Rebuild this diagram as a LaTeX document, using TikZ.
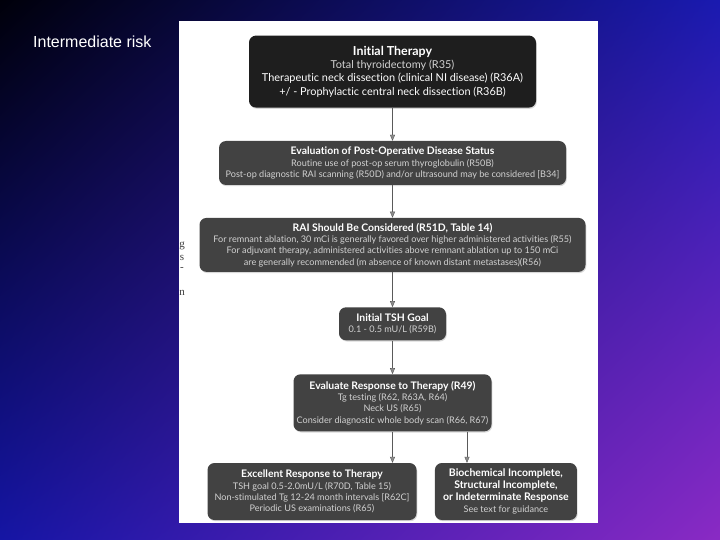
\documentclass[tikz,border=0pt]{standalone}
\usepackage{fontspec}
\setmainfont{Lato}[Ligatures=NoCommon]
\newfontfamily\slidefont{Liberation Sans}
\newfontfamily\fragfont{Liberation Serif}
\usepackage{xcolor}
\definecolor{cBgTL}{HTML}{00000A}
\definecolor{cBgTR}{HTML}{1A1AB0}
\definecolor{cBgBL}{HTML}{1515A4}
\definecolor{cBgBR}{HTML}{8A2AC4}
\definecolor{cBoxDark}{HTML}{1E1E1E}
\definecolor{cBox}{HTML}{424242}
\definecolor{cSub}{HTML}{D2D2D2}
\definecolor{cLine}{HTML}{5A5A5A}
\definecolor{cHead}{HTML}{8C8C8C}
\definecolor{cFrag}{HTML}{3C3C3C}
\usepackage{tikz}
\usetikzlibrary{positioning,arrows.meta,shadows,shadings}
\tikzset{
  node-box/.style={fill=cBox,text=cSub,rounded corners=7pt,align=center,
    inner sep=0pt,font=\fontsize{9.1}{11.3}\selectfont,
    drop shadow={opacity=0.3,shadow xshift=0.8pt,shadow yshift=-1.2pt}},
  node-dark/.style={fill=cBoxDark,font=\fontsize{10.9}{13.4}\selectfont},
  panel/.style={fill=white,inner sep=0pt,minimum width=419pt,minimum height=502pt},
  slide-title/.style={text=white,anchor=base west,inner sep=0pt,
    font=\slidefont\fontsize{16}{16}\selectfont},
  frag/.style={text=cFrag,inner sep=0pt,font=\fragfont\fontsize{11}{11}\selectfont},
  arrow/.style={-{Triangle[length=6pt,width=5pt,fill=cHead]},draw=cLine,thin},
}
\newcommand\hd[1]{{\color{white}\bfseries\fontsize{10.4}{11.3}\selectfont #1}}

\begin{document}
\begin{tikzpicture}[x=1pt,y=-1pt,node distance=33pt and 18pt]
  \useasboundingbox (0,0) rectangle (720,540);
  \shade[upper left=cBgTL,upper right=cBgTR,lower left=cBgBL,lower right=cBgBR]
    (0,0) rectangle (720,540);
  \node[slide-title] (title) at (33,48) {Intermediate risk};
  \node[panel] (panel) at (388.5,272) {};
  \node[frag] (frag-g) at (182,246) {g};
  \node[frag] (frag-s) at (182,258) {s};
  \node[frag] (frag-d) at (182,269) {-};
  \node[frag] (frag-n) at (182,293) {n};

  \node[node-box,node-dark,minimum width=287pt,minimum height=72pt] (init) at (392.5,71.6)
    {{\color{white}\bfseries\fontsize{12.4}{13.4}\selectfont Initial Therapy}\\
     Total thyroidectomy (R35)\\
     {\color{white}Therapeutic neck dissection (clinical NI disease) (R36A)}\\
     {\color{white}+/ - Prophylactic central neck dissection (R36B)}};
  \node[node-box,below=33pt of init,minimum width=347pt,minimum height=44pt] (postop)
    {\hd{Evaluation of Post-Operative Disease Status}\\
     Routine use of post-op serum thyroglobulin (R50B)\\
     Post-op diagnostic RAI scanning (R50D) and/or ultrasound may be considered [B34]};
  \node[node-box,below=32.5pt of postop,minimum width=386pt,minimum height=54pt] (rai)
    {\hd{RAI Should Be Considered (R51D, Table 14)}\\
     For remnant ablation, 30 mCi is generally favored over higher administered activities (R55)\\
     For adjuvant therapy, administered activities above remnant ablation up to 150 mCi\\
     are generally recommended (m absence of known distant metastases)(R56)};
  \node[node-box,below=35pt of rai,minimum width=107pt,minimum height=33pt] (tsh)
    {\hd{Initial TSH Goal}\\
     0.1 - 0.5 mU/L (R59B)};
  \node[node-box,below=33.6pt of tsh,minimum width=198pt,minimum height=57pt] (eval)
    {\hd{Evaluate Response to Therapy (R49)}\\
     Tg testing (R62, R63A, R64)\\
     Neck US (R65)\\
     Consider diagnostic whole body scan (R66, R67)};
  \node[node-box,below=31.3pt of eval,xshift=-80.5pt,minimum width=209pt,minimum height=57pt] (excel)
    {\hd{Excellent Response to Therapy}\\
     TSH goal 0.5-2.0mU/L (R70D, Table 15)\\
     Non-stimulated Tg 12-24 month intervals [R62C]\\
     Periodic US examinations (R65)};
  \node[node-box,right=of excel,minimum width=142pt,minimum height=57pt,
    font=\fontsize{9.1}{12}\selectfont] (incomp)
    {{\color{white}\bfseries\fontsize{10.5}{12}\selectfont Biochemical Incomplete,}\\
     {\color{white}\bfseries\fontsize{10.5}{12}\selectfont Structural Incomplete,}\\
     {\color{white}\bfseries\fontsize{10.5}{12}\selectfont or Indeterminate Response}\\
     See text for guidance};

  \draw[arrow] (init) -- (postop);
  \draw[arrow] (postop) -- (rai);
  \draw[arrow] (rai) -- (tsh);
  \draw[arrow] (tsh) -- (eval);
  \draw[arrow] (eval.south) -- (eval.south |- excel.north);
  \coordinate (eval-r) at ([xshift=74.5pt]eval.south);
  \draw[arrow] (eval-r) -- (eval-r |- incomp.north);
\end{tikzpicture}
\end{document}
